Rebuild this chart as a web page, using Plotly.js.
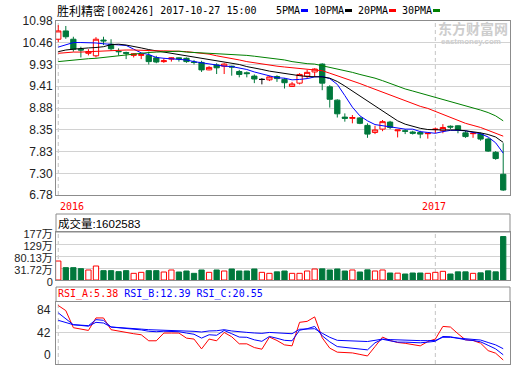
<!DOCTYPE html>
<html><head><meta charset="utf-8">
<script src="https://cdn.plot.ly/plotly-3.0.1.min.js"></script>
<style>html,body{margin:0;padding:0;background:#fff}#chart{width:520px;height:365px}</style>
</head><body><div id="chart"></div>
<script>
// ---------- data ----------
const stockName = "胜利精密";
const stockInfo = "[002426] 2017-10-27 15:00";
const maNames = ["5PMA", "10PMA", "20PMA", "30PMA"];
const yearLabels = ["2016", "2017"];
const yearIndex = [0, 50];
const priceTicks = ["6.78","7.30","7.83","8.35","8.88","9.41","9.93","10.46","10.98"];
const volTickVals = [0, 44.25, 88.5, 132.75, 177];
const volTickText = ["0", "31.72万", "80.13万", "129万", "177万"];
const rsiTicks = [0, 42, 84];

const openP = [10.54,10.74,10.54,10.30,10.20,10.14,10.52,10.42,10.25,10.22,
  10.15,10.15,10.15,10.09,10.00,10.06,10.09,10.08,9.99,9.98,
  9.80,9.92,9.89,9.89,9.76,9.73,9.65,9.57,9.56,9.64,
  9.57,9.40,9.48,9.65,9.75,9.94,9.39,9.07,8.66,8.63,
  8.64,8.46,8.29,8.37,8.54,8.33,8.33,8.30,8.29,8.26,
  8.36,8.33,8.44,8.45,8.28,8.26,8.25,8.13,7.81,7.28];
const highP = [10.88,10.86,10.60,10.36,10.30,10.59,10.60,10.54,10.32,10.24,
  10.20,10.20,10.24,10.14,10.08,10.10,10.10,10.10,10.04,10.02,
  9.89,9.96,9.96,9.90,9.80,9.76,9.69,9.60,9.65,9.67,
  9.60,9.51,9.72,9.80,9.84,9.96,9.43,9.09,8.75,8.71,
  8.66,8.51,8.45,8.59,8.57,8.35,8.37,8.33,8.33,8.27,
  8.41,8.49,8.46,8.46,8.33,8.27,8.29,8.16,7.84,8.03];
const lowP = [10.47,10.55,10.24,10.10,10.15,10.10,10.40,10.26,10.15,10.06,
  10.10,10.06,9.93,9.96,9.97,10.00,10.00,9.97,9.93,9.75,
  9.79,9.70,9.70,9.66,9.62,9.62,9.48,9.45,9.53,9.51,
  9.35,9.39,9.45,9.60,9.64,9.31,8.89,8.65,8.55,8.51,
  8.49,8.16,8.25,8.32,8.37,8.17,8.25,8.24,8.15,8.14,
  8.27,8.27,8.37,8.27,8.16,8.16,8.09,7.82,7.63,6.88];
const closeP = [10.74,10.60,10.30,10.28,10.24,10.54,10.50,10.31,10.24,10.20,
  10.19,10.17,10.00,9.99,10.02,10.09,10.07,10.00,9.98,9.80,
  9.86,9.85,9.94,9.87,9.69,9.71,9.58,9.57,9.63,9.59,
  9.49,9.46,9.69,9.74,9.82,9.48,9.09,8.74,8.63,8.65,
  8.51,8.25,8.35,8.55,8.41,8.35,8.32,8.27,8.25,8.27,
  8.37,8.41,8.42,8.35,8.19,8.27,8.13,7.84,7.66,6.90];

const ma5 = [10.35,10.41,10.46,10.46,10.46,10.45,10.43,10.42,10.41,10.39,
  10.30,10.21,10.17,10.10,10.08,10.07,10.06,10.04,10.00,9.97,
  9.94,9.91,9.89,9.88,9.85,9.81,9.75,9.70,9.65,9.61,
  9.60,9.56,9.57,9.59,9.63,9.64,9.59,9.45,9.18,8.90,
  8.69,8.57,8.48,8.45,8.43,8.39,8.37,8.37,8.31,8.29,
  8.27,8.31,8.34,8.34,8.33,8.29,8.26,8.18,8.04,7.79];
const ma10 = [10.24,10.28,10.30,10.32,10.33,10.34,10.36,10.41,10.42,10.40,
  10.37,10.33,10.29,10.26,10.23,10.20,10.17,10.14,10.11,10.08,
  10.04,10.01,9.98,9.96,9.93,9.88,9.85,9.81,9.77,9.74,
  9.71,9.68,9.66,9.64,9.64,9.63,9.60,9.52,9.41,9.29,
  9.15,9.03,8.91,8.80,8.68,8.57,8.49,8.44,8.39,8.36,
  8.35,8.35,8.35,8.35,8.33,8.31,8.28,8.24,8.18,8.05];
const ma20 = [10.20,10.22,10.23,10.23,10.24,10.25,10.26,10.27,10.27,10.28,
  10.28,10.27,10.27,10.26,10.26,10.26,10.25,10.24,10.22,10.21,
  10.18,10.14,10.11,10.08,10.04,10.00,9.97,9.95,9.92,9.89,
  9.87,9.85,9.83,9.81,9.79,9.78,9.72,9.66,9.59,9.53,
  9.47,9.40,9.33,9.26,9.20,9.13,9.05,8.98,8.92,8.87,
  8.80,8.72,8.65,8.58,8.51,8.46,8.41,8.34,8.27,8.20];
const ma30 = [10.00,10.02,10.03,10.05,10.07,10.08,10.10,10.12,10.14,10.17,
  10.19,10.21,10.22,10.23,10.24,10.25,10.25,10.23,10.22,10.21,
  10.20,10.20,10.19,10.18,10.16,10.15,10.13,10.11,10.09,10.07,
  10.04,10.00,9.97,9.95,9.94,9.90,9.87,9.83,9.79,9.74,
  9.69,9.65,9.60,9.54,9.47,9.40,9.34,9.29,9.24,9.18,
  9.13,9.09,9.04,8.99,8.94,8.88,8.83,8.77,8.69,8.57];

// volume in 万 (10,000)
const volume = [70,45.5,45.5,41.8,36.9,51.6,34.4,34.4,30.7,34.4,
  24.6,28.3,34.4,34.4,29.5,36.9,29.5,33.2,24.6,36.9,
  28.3,36.9,33.2,40.6,33.2,33.2,40.6,28.3,24.6,30.1,
  33.2,24.6,24.6,33.2,40.6,41.2,36.9,40.6,33.2,36.9,
  29.5,37.5,33.2,36.9,25.8,25.2,22.1,25.8,25.8,24.6,
  28.3,32,22.1,30.1,30.1,24.6,26.4,33.8,30.1,160.2583];

const rsiA = [78.6,71.8,48.8,46.7,45.1,61.9,61.9,46.1,44.0,42.4,
  40.7,39.3,31.2,31.2,41.6,41.6,41.6,34.8,33.5,20.3,
  33.5,31.2,42.4,36.6,27.1,27.1,22.1,19.9,36.2,31.6,
  25.7,24.4,56.0,57.3,63.3,35.2,21.3,15.9,15.3,14.9,
  12.9,10.8,23.4,36.2,31.6,28.9,27.8,26.4,24.4,30.2,
  33.5,50.5,49.7,40.7,32.5,31.6,28.0,18.0,14.5,5.38];
const rsiB = [68.7,61.0,52.8,52.2,51.5,59.6,58.7,49.7,48.8,47.7,
  46.7,45.8,44.0,43.4,44.0,44.0,43.4,41.6,40.0,34.8,
  39.3,38.6,45.1,40.7,36.2,35.9,32.5,30.5,37.0,34.6,
  31.8,31.2,45.4,47.4,50.5,37.9,29.8,23.4,22.4,21.7,
  20.3,19.0,28.5,33.2,31.2,29.4,29.4,29.1,28.5,29.4,
  30.5,37.0,36.6,34.6,32.5,31.6,29.8,25.1,20.3,12.39];
const rsiC = [58.7,55.6,52.8,51.8,50.8,56.0,55.1,49.7,49.2,48.5,
  47.7,46.9,46.1,45.8,45.8,45.7,45.3,44.7,43.9,43.0,
  44.4,44.7,46.1,44.4,43.0,42.5,41.7,41.2,42.4,41.6,
  40.9,40.7,46.7,47.0,47.4,41.3,35.9,31.8,31.2,30.9,
  30.5,30.2,31.8,33.5,32.8,32.2,32.0,31.7,31.4,31.4,
  31.7,35.9,35.9,34.8,33.9,33.5,32.2,28.9,25.7,20.55];

// ---------- styling ----------
const W = 520, H = 365;
const px = x => x / W, py = y => 1 - y / H;
const FRAME = '#8c8c8c', GRID = '#d2d2d2', DASH = '#c4c4c4';
const RED = '#ff0000', GREEN = '#00783c', BLUE = '#0000ff';
const maColors = [BLUE, '#000000', RED, '#008000'];
const maSeries = [ma5, ma10, ma20, ma30];
const MONO = 'DejaVu Sans Mono, Noto Sans CJK SC, monospace';
const TICKFONT = {family: 'Liberation Sans, Noto Sans CJK SC, sans-serif', size: 12, color: '#222'};

const N = closeP.length;
const idx = closeP.map((_, i) => i);

function subset(test) {
  const s = {x: [], o: [], h: [], l: [], c: []};
  openP.forEach((o, i) => {
    if (test(o, closeP[i])) {
      s.x.push(i); s.o.push(o); s.h.push(highP[i]); s.l.push(lowP[i]); s.c.push(closeP[i]);
    }
  });
  return s;
}
function candle(s, color, fill) {
  return {type: 'candlestick', x: s.x, open: s.o, high: s.h, low: s.l, close: s.c,
    xaxis: 'x', yaxis: 'y', whiskerwidth: 0, hoverinfo: 'skip', showlegend: false,
    increasing: {line: {color: color, width: 1}, fillcolor: fill},
    decreasing: {line: {color: color, width: 1}, fillcolor: fill}};
}

const traces = [
  candle(subset((o, c) => c > o), RED, '#ffffff'),
  candle(subset((o, c) => c < o), GREEN, GREEN),
  candle(subset((o, c) => c === o), '#000000', '#000000')
];
maSeries.forEach((s, k) => traces.push({type: 'scatter', mode: 'lines', x: idx, y: s,
  xaxis: 'x', yaxis: 'y', line: {color: maColors[k], width: 1}, hoverinfo: 'skip'}));

const isUp = idx.map(i => closeP[i] >= openP[i]);
traces.push({type: 'bar', x: idx, y: volume, xaxis: 'x2', yaxis: 'y2', hoverinfo: 'skip',
  marker: {color: isUp.map(u => u ? '#ffffff' : GREEN),
           line: {color: isUp.map(u => u ? RED : GREEN), width: 1}}});

[[rsiA, RED], [rsiB, BLUE], [rsiC, BLUE]].forEach(([s, c]) => traces.push({
  type: 'scatter', mode: 'lines', x: idx, y: s, xaxis: 'x3', yaxis: 'y3',
  line: {color: c, width: 1}, hoverinfo: 'skip'}));

const xCommon = {range: [-0.3, 59.9], showgrid: false, zeroline: false, showticklabels: false,
  ticks: '', showline: true, mirror: true, linecolor: FRAME, linewidth: 1, fixedrange: true,
  domain: [px(56), px(510)]};
const yCommon = {showgrid: true, gridcolor: GRID, gridwidth: 1, zeroline: false, showline: true,
  mirror: true, linecolor: FRAME, linewidth: 1, ticks: '', tickfont: TICKFONT, fixedrange: true};

const rsiDomain = [py(364), py(301.5)], rsiRange = [0, 84];

// ---------- shapes & annotations ----------
const shapes = [
  {type: 'rect', xref: 'paper', yref: 'paper', x0: px(56), x1: px(510), y0: py(232), y1: py(214),
   line: {color: FRAME, width: 1}},
  {type: 'rect', xref: 'paper', yref: 'paper', x0: px(56), x1: px(510), y0: py(301.5), y1: py(287),
   line: {color: FRAME, width: 1}}
];
[['x', 'y'], ['x2', 'y2'], ['x3', 'y3']].forEach(([xa, ya]) => yearIndex.forEach(v => shapes.push({
  type: 'line', xref: xa, yref: ya + ' domain', x0: v, x1: v, y0: 0, y1: 1, layer: 'below',
  line: {color: DASH, width: 1, dash: '4px,3px'}})));

const annotations = [];
const txt = (text, x, y, font, extra) => annotations.push(Object.assign({text: text, x: x, y: y,
  xref: 'paper', yref: 'paper', xanchor: 'left', yanchor: 'middle', showarrow: false,
  borderpad: 0, font: font}, extra || {}));

txt(stockName, px(56), py(10.5), {family: 'Noto Sans CJK SC', size: 12, color: '#000'});
txt(stockInfo, px(105), py(10.5), {family: MONO, size: 10, color: '#000'});

let lx = 275;
maNames.forEach((name, k) => {
  txt(name, px(lx), py(10.5), {family: MONO, size: 10, color: '#000'});
  const r0 = lx + name.length * 6 + 2;
  shapes.push({type: 'rect', xref: 'paper', yref: 'paper', x0: px(r0), x1: px(r0 + 7),
    y0: py(12), y1: py(9), fillcolor: maColors[k], line: {width: 0}});
  lx = r0 + 7 + 5;
});

yearLabels.forEach((t, i) => annotations.push({text: t, x: yearIndex[i], xref: 'x',
  y: py(206), yref: 'paper', xanchor: i === 0 ? 'left' : 'center', xshift: i === 0 ? 1 : -1,
  yanchor: 'middle', showarrow: false, borderpad: 0, font: {family: MONO, size: 10, color: RED}}));

txt('成交量:' + Math.round(volume[N - 1] * 10000), px(57), py(223),
  {family: 'Liberation Sans, Noto Sans CJK SC', size: 11.5, color: '#000'});

txt('<span style="color:' + RED + '">RSI_A:' + rsiA[N - 1].toFixed(2) + '</span>\u00a0' +
    '<span style="color:' + BLUE + '">RSI_B:' + rsiB[N - 1].toFixed(2) + '\u00a0RSI_C:' +
    rsiC[N - 1].toFixed(2) + '</span>', px(57), py(294), {family: MONO, size: 10, color: BLUE});

// RSI axis labels: positioned at their values on the RSI scale, nudged inside the panel like the original
const rsiShift = [9, 0, -8];
rsiTicks.forEach((v, i) => {
  const yp = rsiDomain[0] + (v - rsiRange[0]) / (rsiRange[1] - rsiRange[0]) * (rsiDomain[1] - rsiDomain[0]);
  annotations.push({text: String(v), x: px(52), xref: 'paper', y: yp, yref: 'paper',
    yshift: rsiShift[i], xanchor: 'right', yanchor: 'middle', showarrow: false,
    borderpad: 0, font: TICKFONT});
});

// watermark
txt('<b>东方财富网</b>', px(437), py(28.5), {family: 'Noto Sans CJK SC', size: 14, color: '#cdcdcd'});
txt('<b>eastmoney.com</b>', px(440), py(42), {family: 'Liberation Sans', size: 8, color: '#cdcdcd'});

const layout = {
  width: W, height: H, margin: {l: 0, r: 0, t: 0, b: 0, pad: 0},
  paper_bgcolor: '#ffffff', plot_bgcolor: '#ffffff', showlegend: false,
  boxgap: 0.3, boxgroupgap: 0, bargap: 0.3,
  xaxis: Object.assign({}, xCommon, {anchor: 'y', rangeslider: {visible: false}}),
  xaxis2: Object.assign({}, xCommon, {anchor: 'y2'}),
  xaxis3: Object.assign({}, xCommon, {anchor: 'y3'}),
  yaxis: Object.assign({}, yCommon, {anchor: 'x', domain: [py(195), py(21)], range: [6.78, 10.98],
    tickvals: priceTicks.map(Number), ticktext: priceTicks}),
  yaxis2: Object.assign({}, yCommon, {anchor: 'x2', domain: [py(280), py(232)], range: [0, 177],
    tickvals: volTickVals, ticktext: volTickText, ticklabelshift: 2,
    tickfont: Object.assign({}, TICKFONT, {size: 11})}),
  yaxis3: Object.assign({}, yCommon, {anchor: 'x3', domain: rsiDomain, range: rsiRange,
    tickvals: rsiTicks, showticklabels: false}),
  shapes: shapes, annotations: annotations
};

Plotly.newPlot('chart', traces, layout, {staticPlot: true, displayModeBar: false});
</script></body></html>
